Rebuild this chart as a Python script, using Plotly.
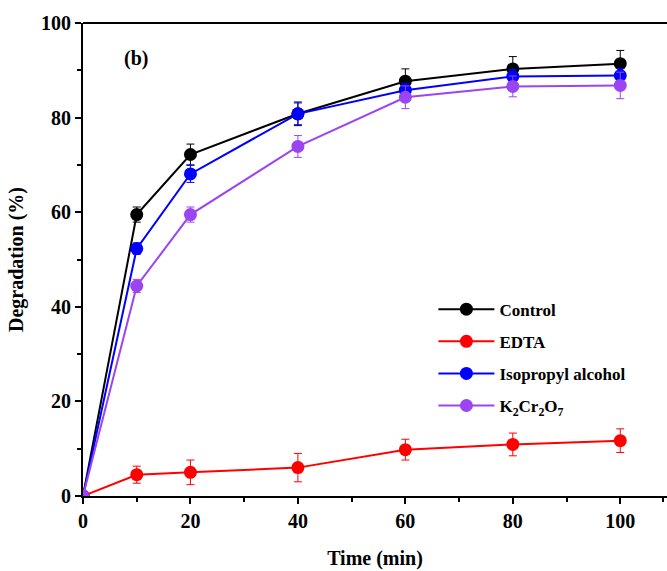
import plotly.graph_objects as go

time = [0, 10, 20, 40, 60, 80, 100]
control = [0, 59.5, 72.2, 80.8, 87.7, 90.3, 91.4]
control_err = [0, 1.6, 2.2, 2.5, 2.6, 2.6, 2.8]
edta = [0, 4.5, 5.0, 6.0, 9.8, 10.9, 11.7]
edta_err = [0, 1.8, 2.6, 3.0, 2.2, 2.4, 2.5]
ipa = [0, 52.3, 68.1, 80.8, 85.8, 88.7, 88.9]
ipa_err = [0, 1.2, 1.8, 2.3, 1.5, 1.5, 1.5]
k2cr2o7 = [0, 44.4, 59.5, 73.9, 84.3, 86.6, 86.8]
k2cr2o7_err = [0, 1.4, 1.6, 2.3, 2.4, 2.2, 2.8]

series = [
    ("Control", control, control_err, "#000000"),
    ("EDTA", edta, edta_err, "#ff0000"),
    ("Isopropyl alcohol", ipa, ipa_err, "#0000ff"),
    ("K<sub>2</sub>Cr<sub>2</sub>O<sub>7</sub>", k2cr2o7, k2cr2o7_err, "#9b45f0"),
]

fig = go.Figure()
for i, (name, y, err, color) in enumerate(series):
    fig.add_trace(go.Scatter(
        x=time, y=y, name=name, mode="lines+markers", legendgroup=f"g{i}",
        line=dict(color=color, width=2),
        marker=dict(color=color, size=13),
        error_y=dict(type="data", array=err, visible=True, color=color,
                     thickness=1, width=4),
    ))

font = "Liberation Serif, Times New Roman, serif"
fig.update_layout(
    width=667, height=571,
    margin=dict(l=83, r=0, t=23, b=75),
    plot_bgcolor="white", paper_bgcolor="white",
    font=dict(family=font, size=19, color="black"),
    showlegend=True,
    legend=dict(x=0.6, y=0.432, xanchor="left", yanchor="top",
                font=dict(family=font, size=17, color="black", weight="bold"),
                bgcolor="rgba(0,0,0,0)", tracegroupgap=7, itemwidth=56),
    annotations=[dict(text="<b>(b)</b>", x=0.09, y=0.925, xref="paper", yref="paper",
                      showarrow=False, font=dict(family=font, size=20, color="black"),
                      xanchor="center", yanchor="middle")],
)
fig.update_xaxes(
    range=[0, 108.7], tickvals=[0, 20, 40, 60, 80, 100],
    showline=True, linecolor="black", linewidth=2, mirror=False,
    ticks="outside", ticklen=6, tickwidth=2, tickcolor="black",
    minor=dict(tickvals=[10, 30, 50, 70, 90, 108], ticks="outside", ticklen=4, tickwidth=1.5, tickcolor="black"),
    showgrid=False, zeroline=False,
    tickfont=dict(family=font, size=20, color="black", weight="bold"),
    title=dict(text="<b>Time (min)</b>", font=dict(family=font, size=20, color="black"), standoff=20),
)
fig.update_yaxes(
    range=[0, 100], tickvals=[0, 20, 40, 60, 80, 100],
    showline=True, linecolor="black", linewidth=2,
    ticks="outside", ticklen=6, tickwidth=2, tickcolor="black",
    minor=dict(tickvals=[10, 30, 50, 70, 90], ticks="outside", ticklen=4, tickwidth=1.5, tickcolor="black"),
    showgrid=False, zeroline=False,
    tickfont=dict(family=font, size=20, color="black", weight="bold"),
    title=dict(text="<b>Degradation (%)</b>", font=dict(family=font, size=20, color="black"), standoff=12),
)
# top frame line
fig.add_shape(type="line", xref="paper", yref="paper", x0=0, x1=1, y0=1, y1=1,
              line=dict(color="black", width=2))

fig.write_html("out.html")
